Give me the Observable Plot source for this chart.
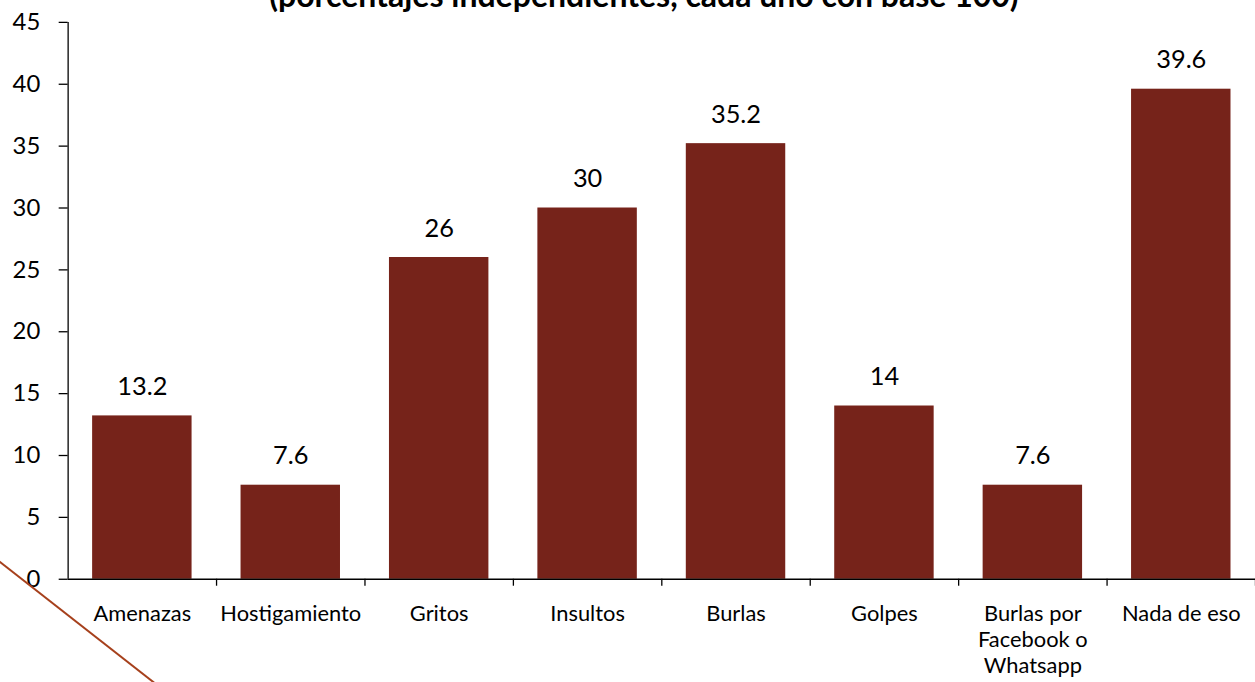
<!DOCTYPE html>
<html>
<head>
<meta charset="utf-8">
<script src="https://cdn.jsdelivr.net/npm/d3@7"></script>
<script src="https://cdn.jsdelivr.net/npm/@observablehq/plot@0.6"></script>
<style>
  html, body { margin: 0; padding: 0; overflow: hidden; background: #fff; width: 1255px; height: 682px; }
  #wrap { position: relative; width: 1255px; height: 682px; overflow: hidden; }
  #title { position: absolute; left: 0; width: 1288px; top: -21px; text-align: center;
           font-family: Lato, sans-serif; font-weight: bold; font-size: 32px; line-height: 32px; color: #000; white-space: nowrap; }
  #deco { position: absolute; left: 0; top: 0; pointer-events: none; }
  #chart { position: absolute; left: 0; top: 0; }
</style>
</head>
<body>
<div id="wrap">
  <div id="chart"></div>
  <div id="title">(porcentajes independientes, cada uno con base 100)</div>
  <svg id="deco" width="1255" height="682"><line x1="-10" y1="554.2" x2="170" y2="695.1" stroke="#A6401C" stroke-width="2"/></svg>
</div>
<script>
const categories = ["Amenazas", "Hostigamiento", "Gritos", "Insultos", "Burlas", "Golpes", "Burlas por Facebook o Whatsapp", "Nada de eso"];
const values = [13.2, 7.6, 26, 30, 35.2, 14, 7.6, 39.6];
const tickLabels = ["Amenazas", "Hostigamiento", "Gritos", "Insultos", "Burlas", "Golpes", "Burlas por\nFacebook o\nWhatsapp", "Nada de eso"];
const yTicks = [0, 5, 10, 15, 20, 25, 30, 35, 40, 45];

const data = categories.map((c, i) => ({category: c, value: values[i]}));
const labelOf = new Map(categories.map((c, i) => [c, tickLabels[i]]));

const W = 1262, ML = 68, MR = 0;
const step = (W - ML - MR) / categories.length;

const chart = Plot.plot({
  width: W,
  height: 682,
  marginLeft: ML,
  marginRight: MR,
  marginTop: 22,
  marginBottom: 100,
  style: {fontFamily: "Lato, sans-serif", color: "#000", background: "#fff", overflow: "visible"},
  x: {domain: categories, paddingInner: 0.33, paddingOuter: 0.165, round: false, label: null},
  y: {domain: [0, 45], label: null},
  marks: [
    Plot.barY(data, {x: "category", y: "value", fill: "#76231A"}),
    Plot.text(data, {x: "category", y: "value", text: d => String(d.value), dy: -29, fontSize: 25.5, fill: "#000"}),
    Plot.ruleY([0], {stroke: "#000", strokeWidth: 1.3}),
    Plot.ruleX([categories[0]], {x: d => d, dx: -step / 2, y1: 0, y2: 45, stroke: "#000", strokeWidth: 1.3}),
    Plot.ruleX(categories, {x: d => d, dx: step / 2, y1: 0, y2: 0, insetBottom: -7, stroke: "#000", strokeWidth: 1.3}),
    Plot.axisY({ticks: yTicks, tickSize: 9, tickPadding: 19, fontSize: 24, stroke: "#000", fill: "#000", strokeWidth: 1.3, label: null}),
    Plot.axisX({tickSize: 0, tickPadding: 24, fontSize: 22, lineHeight: 1.18, fill: "#000", tickFormat: d => labelOf.get(d), label: null})
  ]
});
document.getElementById("chart").appendChild(chart);
</script>
</body>
</html>
